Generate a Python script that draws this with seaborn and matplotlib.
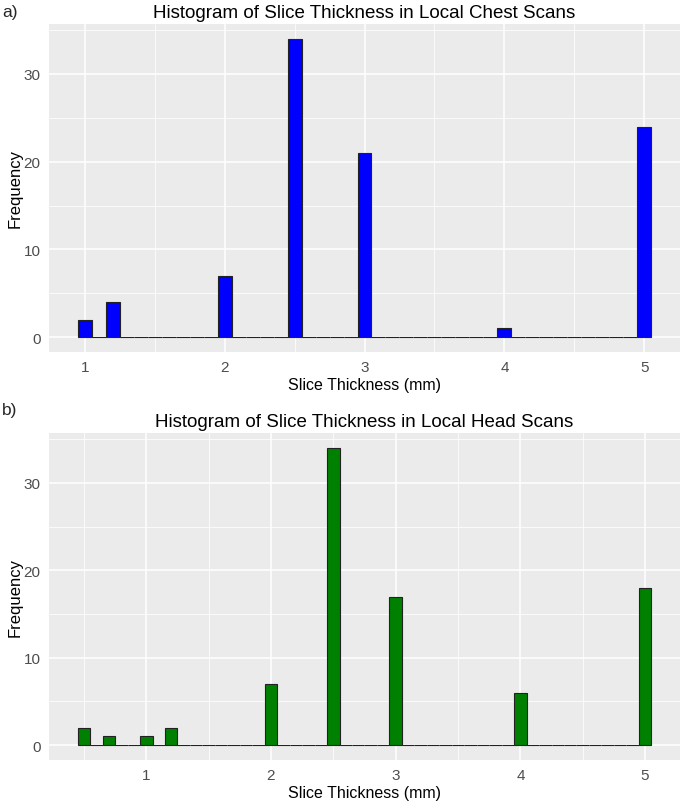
import numpy as np
import pandas as pd
import matplotlib
matplotlib.use("Agg")
import matplotlib.pyplot as plt
import seaborn as sns

# Data: slice thickness values (mm) and their frequencies
chest_thickness = [1.0, 1.2, 2.0, 2.5, 3.0, 4.0, 5.0]
chest_counts = [2, 4, 7, 34, 21, 1, 24]

head_thickness = [0.5, 0.7, 1.0, 1.2, 2.0, 2.5, 3.0, 4.0, 5.0]
head_counts = [2, 1, 1, 2, 7, 34, 17, 6, 18]

x_ticks = [1, 2, 3, 4, 5]
y_ticks = [0, 10, 20, 30]

sns.set_theme(style="darkgrid")
plt.rcParams['font.family'] = ['Liberation Sans', 'DejaVu Sans']

fig = plt.figure(figsize=(6.85, 8.03), dpi=100)
W, H = 685, 803

def axes_px(l, t, r, b):
    return fig.add_axes([l / W, 1 - b / H, (r - l) / W, (b - t) / H])

ax1 = axes_px(49, 25, 680, 353)
ax2 = axes_px(49, 434, 680, 761)

def style(ax, df, color, title, lo, hi, xlim, xminor):
    sns.histplot(data=df, x="thickness", weights="count", binwidth=0.1,
                 binrange=(lo - 0.05, hi + 0.05), color=color, alpha=1,
                 edgecolor="#222222", linewidth=0.8, ax=ax)
    ax.set_facecolor("#EBEBEB")
    ax.set_xlim(*xlim)
    ax.set_ylim(-1.7, 35.7)
    ax.set_xticks(x_ticks)
    ax.set_yticks(y_ticks)
    ax.set_xticks(xminor, minor=True)
    ax.set_yticks([5, 15, 25, 35], minor=True)
    ax.grid(which="major", color="white", linewidth=1.1)
    ax.grid(which="minor", color="white", linewidth=0.55)
    ax.set_axisbelow(True)
    for s in ax.spines.values():
        s.set_visible(False)
    ax.tick_params(which="major", length=3, color="#333333", labelsize=11,
                   labelcolor="#4D4D4D", pad=3, width=0.8)
    ax.tick_params(which="minor", length=0)
    ax.set_xlabel("Slice Thickness (mm)", fontsize=11.5, color="black", labelpad=2)
    ax.set_ylabel("Frequency", fontsize=12, color="black", labelpad=1)
    ax.set_title(title, fontsize=13.5, color="black", pad=5)

df1 = pd.DataFrame({"thickness": chest_thickness, "count": chest_counts})
df2 = pd.DataFrame({"thickness": head_thickness, "count": head_counts})

style(ax1, df1, "#0000FF", "Histogram of Slice Thickness in Local Chest Scans",
      1.0, 5.0, (0.745, 5.255), [1.5, 2.5, 3.5, 4.5])
style(ax2, df2, "#008000", "Histogram of Slice Thickness in Local Head Scans",
      0.5, 5.0, (0.22, 5.28), [0.5, 1.5, 2.5, 3.5, 4.5])

fig.text(2 / W, 1 - 12 / H, "a)", fontsize=12.5, va="center", ha="left")
fig.text(2 / W, 1 - 410 / H, "b)", fontsize=12.5, va="center", ha="left")

fig.savefig("out.png", dpi=100, facecolor="white")
